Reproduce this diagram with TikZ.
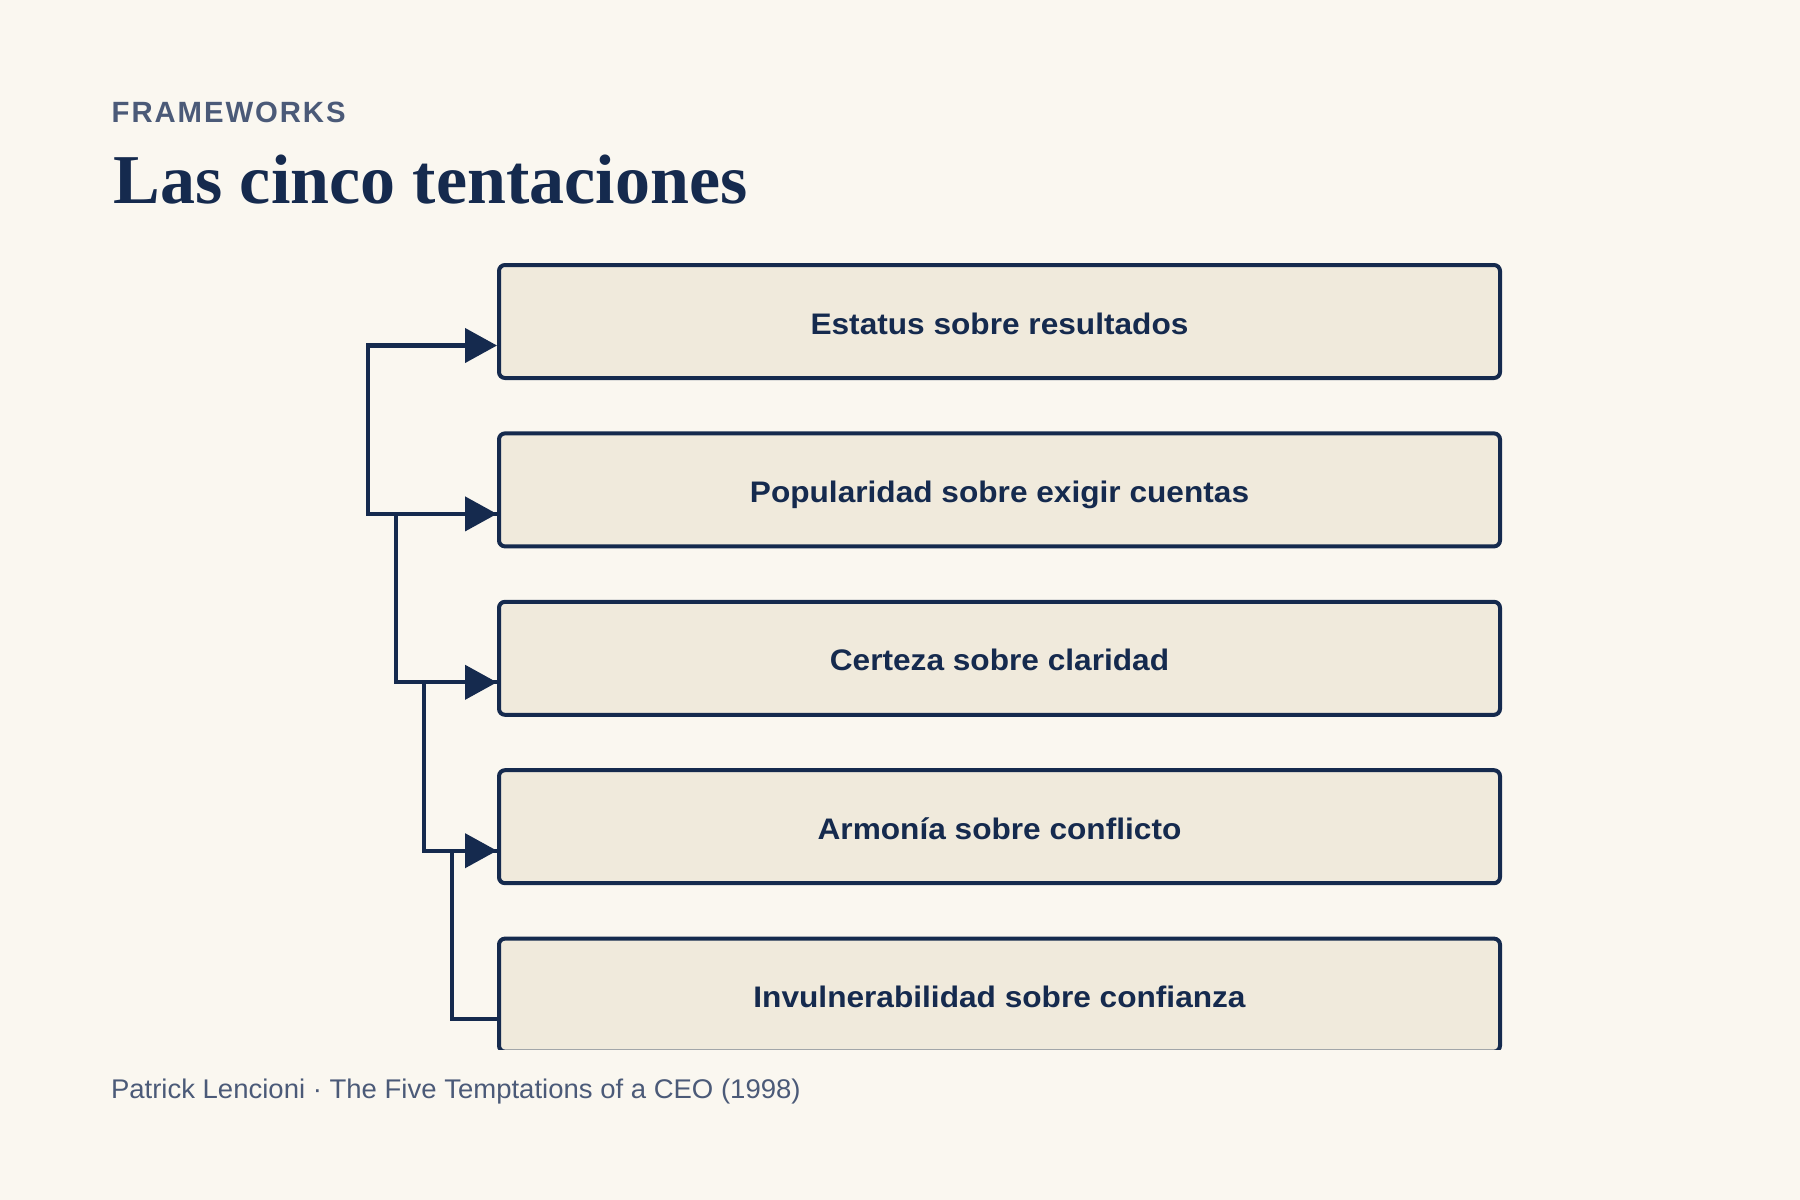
\documentclass[tikz,border=0pt]{standalone}
\usepackage{fontspec}
\usetikzlibrary{arrows.meta}
\setmainfont{Liberation Sans}
\newfontfamily\titlefont{Liberation Serif}
\newfontfamily\boxfont[FakeStretch=1.065]{Liberation Sans}
\newfontfamily\kickerfont[LetterSpace=6.6]{Liberation Sans}
\newfontfamily\footfont[FakeStretch=1.019]{Liberation Sans}
\definecolor{bgc}{HTML}{FAF7F0}
\definecolor{navy}{HTML}{152A4E}
\definecolor{boxfill}{HTML}{F0EADC}
\definecolor{muted}{HTML}{4B5A78}
\tikzset{
  tbox/.style={draw=navy, fill=boxfill, line width=4pt, rounded corners=6pt,
    minimum width=1001pt, minimum height=113pt, inner sep=0pt,
    text height=25pt, text depth=0pt, text=navy,
    font=\boxfont\bfseries\fontsize{29.7}{36}\selectfont},
  conn/.style={draw=navy, line width=4.3pt, -{Triangle[length=32pt,width=34pt]}},
  kicker/.style={inner sep=0pt, anchor=base west, text=muted,
    font=\kickerfont\bfseries\fontsize{29.3}{35}\selectfont},
  heading/.style={inner sep=0pt, anchor=base west, text=navy,
    font=\titlefont\bfseries\fontsize{70}{80}\selectfont},
  foot/.style={inner sep=0pt, anchor=base west, text=muted,
    font=\footfont\fontsize{27}{32}\selectfont}
}
\begin{document}
\begin{tikzpicture}[x=1pt,y=-1pt]
\fill[bgc] (0,0) rectangle (1800,1200);
\useasboundingbox (0,0) rectangle (1800,1200);
\node[kicker] (kick) at (111.5,122.5) {FRAMEWORKS};
\node[heading] (title) at (113.3,203.2) {Las cinco tentaciones};
\node[tbox] (b1) at (999.5,321.5) {Estatus sobre resultados};
\node[tbox] (b2) at (999.5,489.9) {Popularidad sobre exigir cuentas};
\node[tbox] (b3) at (999.5,658.3) {Certeza sobre claridad};
\node[tbox] (b4) at (999.5,826.7) {Armonía sobre conflicto};
\begin{scope}
\clip (0,0) rectangle (1800,1049.5);
\node[tbox] (b5) at (999.5,995.1) {Invulnerabilidad sobre confianza};
\end{scope}
\draw[conn] ([yshift=-24pt]b2.west) -- ++(-129pt,0) |- ([yshift=-24pt]b1.west);
\draw[conn] ([yshift=-24pt]b3.west) -- ++(-101pt,0) |- ([yshift=-24pt]b2.west);
\draw[conn] ([yshift=-24pt]b4.west) -- ++(-73pt,0) |- ([yshift=-24pt]b3.west);
\draw[conn] ([yshift=-24pt]b5.west) -- ++(-45pt,0) |- ([yshift=-24pt]b4.west);
\node[foot] (src) at (110.8,1098) {Patrick Lencioni · The Five Temptations of a CEO (1998)};
\end{tikzpicture}
\end{document}
